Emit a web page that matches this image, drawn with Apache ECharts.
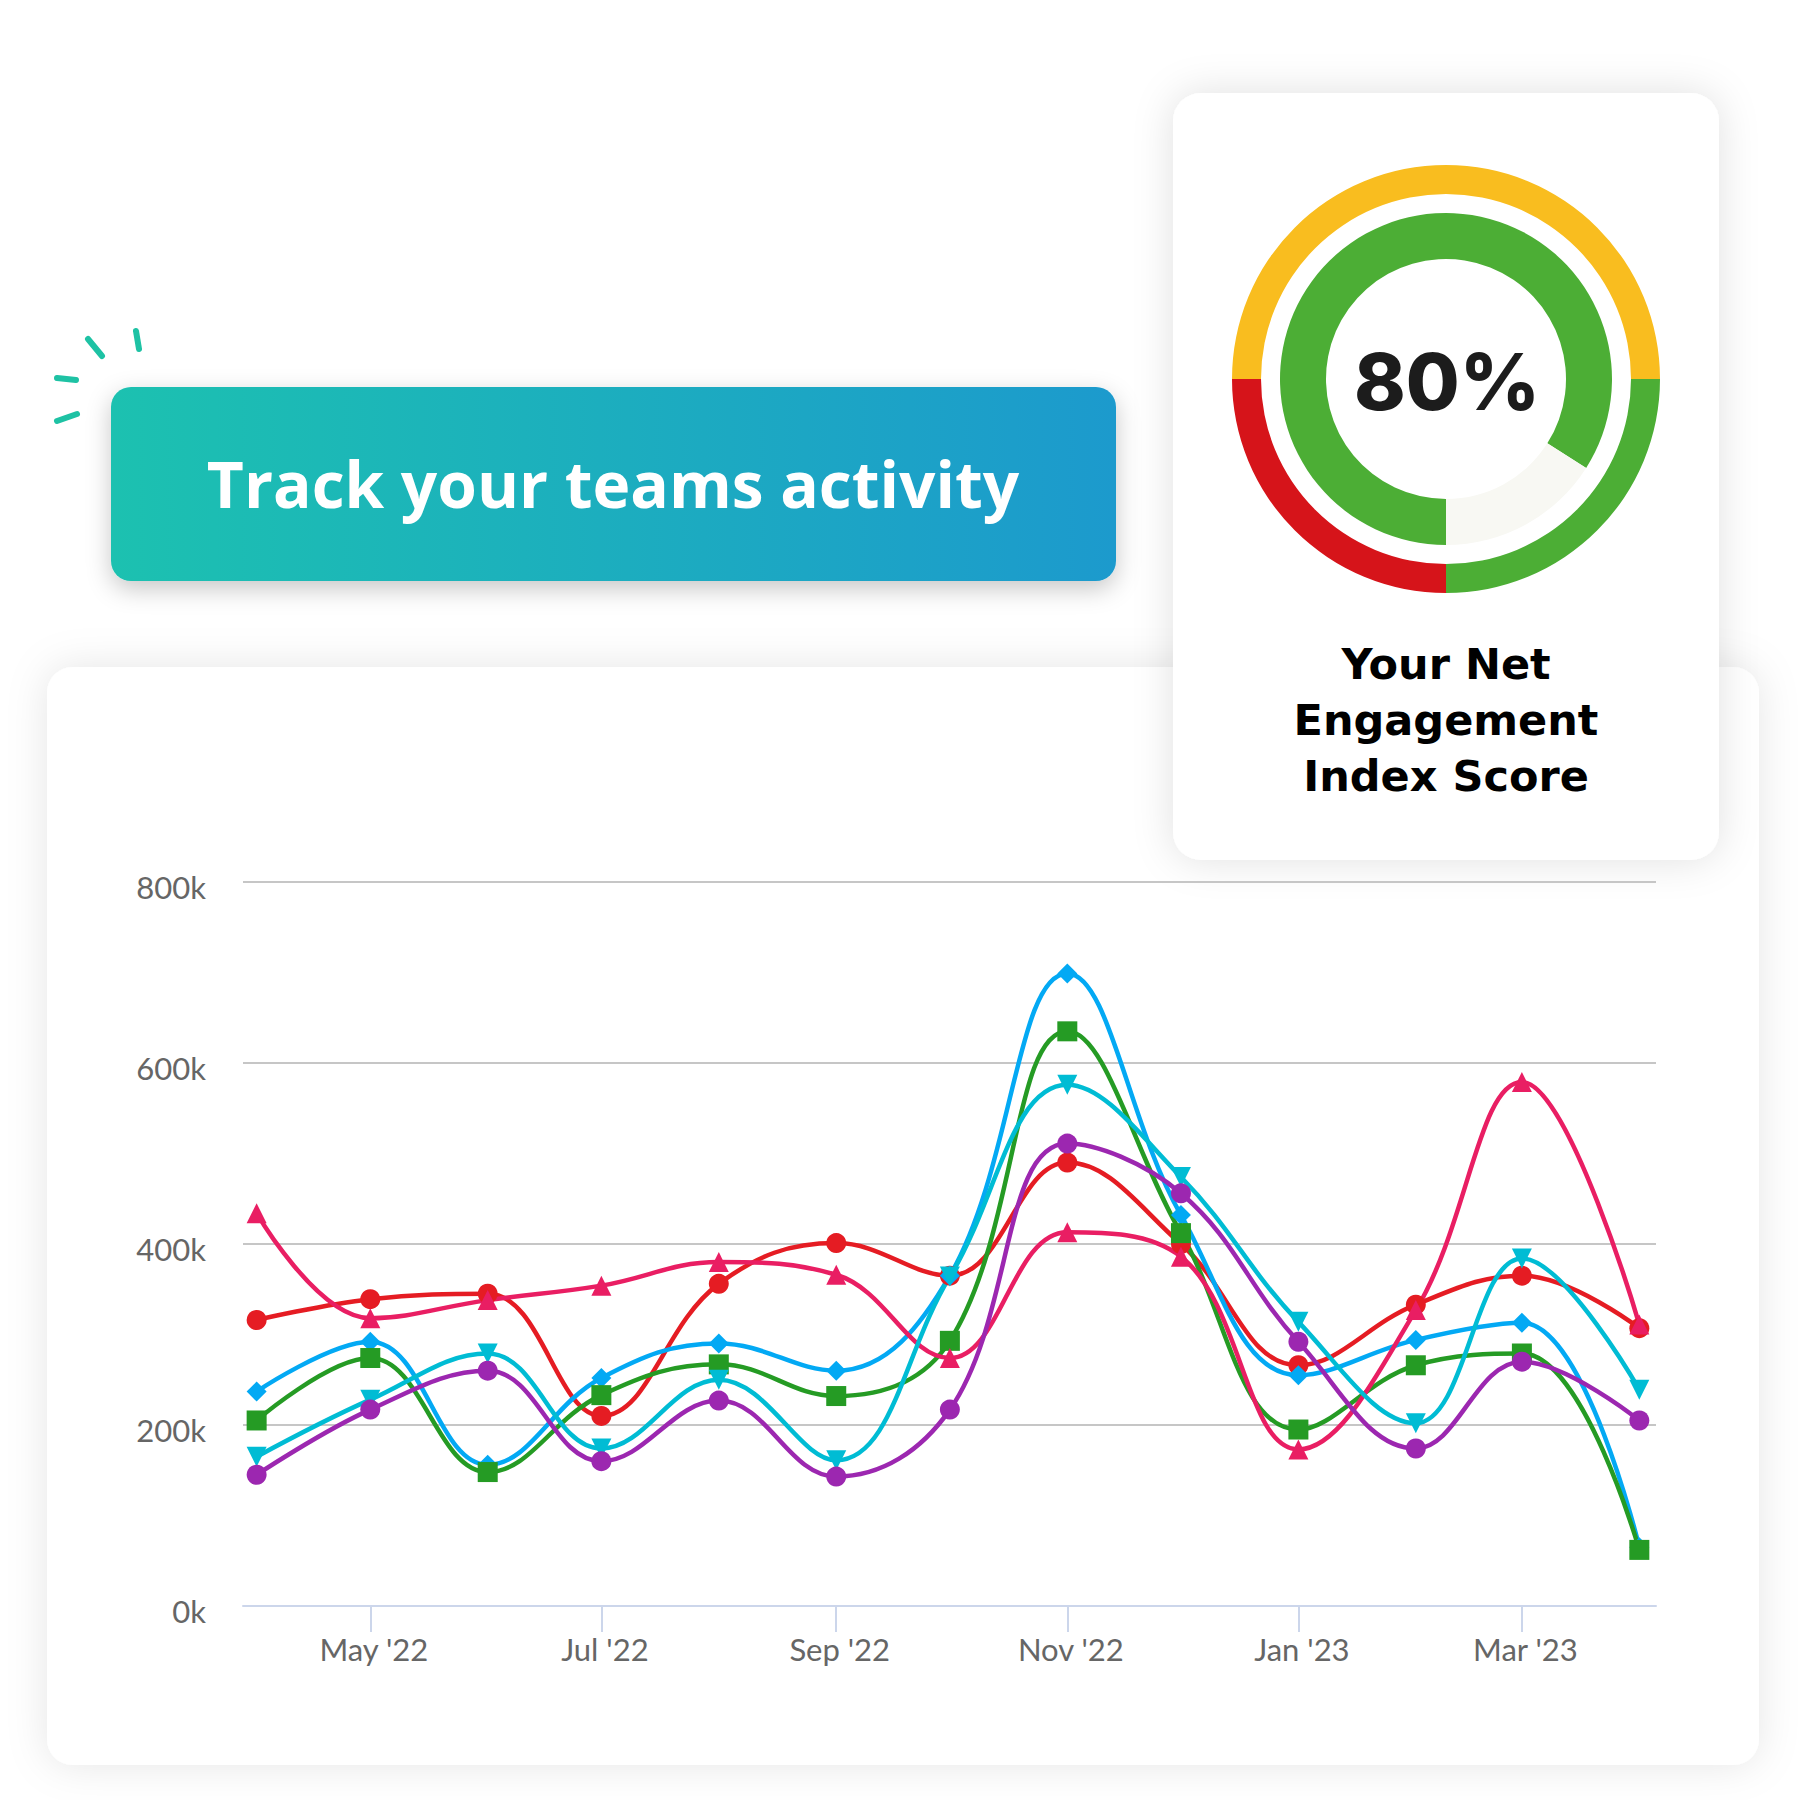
<!DOCTYPE html>
<html>
<head>
<meta charset="utf-8">
<script src="https://cdn.jsdelivr.net/npm/echarts@6/dist/echarts.min.js"></script>
<style>
html,body{margin:0;padding:0;background:#ffffff;}
#chart{width:1800px;height:1800px;}
</style>
</head>
<body>
<div id="chart"></div>
<script>
// ---------- data ----------
const months = ['2022-04-01','2022-05-01','2022-06-01','2022-07-01','2022-08-01','2022-09-01',
  '2022-10-01','2022-11-01','2022-12-01','2023-01-01','2023-02-01','2023-03-01','2023-04-01'];
const xTickDates = ['2022-05-01','2022-07-01','2022-09-01','2022-11-01','2023-01-01','2023-03-01'];
const xTickLabels = ["May '22","Jul '22","Sep '22","Nov '22","Jan '23","Mar '23"];
const yTickLabels = ['0k','200k','400k','600k','800k'];

const redValues    = [316000,339000,345000,210000,356000,401000,365000,490000,400000,266000,333000,365000,307000];
const blueValues   = [237000,292000,156000,252000,290000,260000,365000,699000,432000,255000,294000,313000,65000];
const greenValues  = [205000,274000,148000,233000,267000,232000,293000,635000,412000,195000,266000,279000,62000];
const pinkValues   = [434000,318000,338000,354000,380000,366000,274000,413000,386000,173000,327000,579000,311000];
const cyanValues   = [165000,228000,279000,174000,250000,161000,364000,576000,474000,314000,202000,384000,239000];
const purpleValues = [145000,217000,260000,160000,227000,143000,217000,511000,456000,292000,174000,270000,205000];

const ringNames  = ['Neutral','Positive','Negative'];
const ringValues = [50,25,25];
const scoreNames  = ['Score','Remainder'];
const scoreValues = [84,16];
const scoreText = '80%';
const bannerText = 'Track your teams activity';
const cardLines = ['Your Net','Engagement','Index Score'];

// ---------- helpers ----------
const DAY = 86400000;
function ts(s){ const p = s.split('-').map(Number); return Date.UTC(p[0], p[1]-1, p[2]); }
const origin = ts(months[0]);
function dayOf(s){ return Math.round((ts(s) - origin) / DAY); }
const tickDays = xTickDates.map(dayOf);

const lineDefs = [
  {name:'Team A', values:redValues,    color:'#e51c23', symbol:'circle',   rotate:0},
  {name:'Team B', values:blueValues,   color:'#03a9f4', symbol:'diamond',  rotate:0},
  {name:'Team C', values:greenValues,  color:'#259b24', symbol:'rect',     rotate:0},
  {name:'Team D', values:pinkValues,   color:'#e91e63', symbol:'triangle', rotate:0},
  {name:'Team E', values:cyanValues,   color:'#00bcd4', symbol:'triangle', rotate:180},
  {name:'Team F', values:purpleValues, color:'#9c27b0', symbol:'circle',   rotate:0}
];

const lineSeries = lineDefs.map(d => ({
  type:'line', name:d.name,
  data: months.map((m,i) => [dayOf(m), d.values[i]]),
  smooth:0.4,
  symbol:d.symbol, symbolRotate:d.rotate, symbolSize:20, showAllSymbol:true,
  lineStyle:{color:d.color, width:4.5},
  itemStyle:{color:d.color, borderWidth:0},
  emphasis:{disabled:true},
  z:3
}));

const ringColors = ['#f9bd1f','#4cae35','#d6141a'];
const scoreColors = ['#4cae35','#f8f8f3'];

const pieSeries = [
  {type:'pie', center:[1446,379], radius:[185,214], startAngle:180, clockwise:true,
   silent:true, label:{show:false}, labelLine:{show:false}, emphasis:{disabled:true},
   itemStyle:{borderWidth:0},
   data: ringNames.map((n,i)=>({name:n, value:ringValues[i], itemStyle:{color:ringColors[i]}})), z:4},
  {type:'pie', center:[1446,379], radius:[120,166], startAngle:270, clockwise:true,
   silent:true, label:{show:false}, labelLine:{show:false}, emphasis:{disabled:true},
   itemStyle:{borderWidth:0},
   data: scoreNames.map((n,i)=>({name:n, value:scoreValues[i], itemStyle:{color:scoreColors[i]}})), z:4}
];

const dashColor = '#1ec2a4';
const graphics = [
  {type:'rect', z:-10, shape:{x:47,y:667,width:1712,height:1098,r:26},
   style:{fill:'#ffffff', shadowBlur:40, shadowColor:'rgba(0,0,0,0.10)'}},
  {type:'rect', z:-9, shape:{x:1173,y:93,width:546,height:767,r:28},
   style:{fill:'#ffffff', shadowBlur:40, shadowColor:'rgba(0,0,0,0.12)'}},
  {type:'rect', z:-8, shape:{x:111,y:387,width:1005,height:194,r:20},
   style:{fill:{type:'linear',x:0,y:0,x2:1,y2:0,colorStops:[{offset:0,color:'#1dc1b0'},{offset:1,color:'#1c9acd'}]},
          shadowBlur:24, shadowOffsetY:8, shadowColor:'rgba(0,0,0,0.22)'}},
  {type:'text', z:10, x:613, y:483,
   style:{text:bannerText, fill:'#ffffff', fontFamily:'Open Sans', fontWeight:700, fontSize:64, align:'center', verticalAlign:'middle'}},
  {type:'line', z:10, shape:{x1:88,y1:339,x2:102,y2:356}, style:{stroke:dashColor, lineWidth:6, lineCap:'round'}},
  {type:'line', z:10, shape:{x1:136,y1:331,x2:139,y2:349}, style:{stroke:dashColor, lineWidth:6, lineCap:'round'}},
  {type:'line', z:10, shape:{x1:57,y1:378,x2:76,y2:380}, style:{stroke:dashColor, lineWidth:6, lineCap:'round'}},
  {type:'line', z:10, shape:{x1:57,y1:421,x2:77,y2:414}, style:{stroke:dashColor, lineWidth:6, lineCap:'round'}},
  {type:'text', z:10, x:1447, y:381,
   style:{text:scoreText, fill:'#1c1c1c', fontFamily:'Inter', fontWeight:800, fontSize:78, align:'center', verticalAlign:'middle'}}
].concat(cardLines.map((t,i)=>({
  type:'text', z:10, x:1446, y:664 + i*56,
  style:{text:t, fill:'#000000', fontFamily:'DejaVu Sans', fontWeight:'bold', fontSize:43, align:'center', verticalAlign:'middle'}
})));

const labelFont = {color:'#666666', fontSize:31, fontFamily:'Lato'};

const chart = echarts.init(document.getElementById('chart'), null, {renderer:'svg', width:1800, height:1800});
chart.setOption({
  animation:false,
  backgroundColor:'#ffffff',
  grid:{left:243, right:144, top:882, bottom:194, containLabel:false},
  xAxis:{
    type:'value',
    min:-3.6, max:369.4,
    axisLine:{show:true, onZero:false, lineStyle:{color:'#ccd6eb', width:2}},
    axisTick:{show:true, length:26, customValues:tickDays, lineStyle:{color:'#ccd6eb', width:2}},
    axisLabel:{customValues:tickDays, margin:27,
      formatter:function(v){ const k = tickDays.indexOf(Math.round(v)); return k>=0 ? '{t|' + xTickLabels[k] + '}' : ''; },
      rich:{t:Object.assign({padding:[0,0,0,7]}, labelFont)}},
    splitLine:{show:false}
  },
  yAxis:{
    type:'value', min:0, max:800000, interval:200000,
    axisLine:{show:false}, axisTick:{show:false},
    axisLabel:{margin:37,
      formatter:function(v){ return '{t|' + yTickLabels[Math.round(v/200000)] + '}'; },
      rich:{t:Object.assign({padding:[10,0,0,0]}, labelFont)}},
    splitLine:{show:true, lineStyle:{color:'#c6c6c6', width:2}}
  },
  graphic: graphics,
  series: lineSeries.concat(pieSeries)
});
</script>
</body>
</html>
